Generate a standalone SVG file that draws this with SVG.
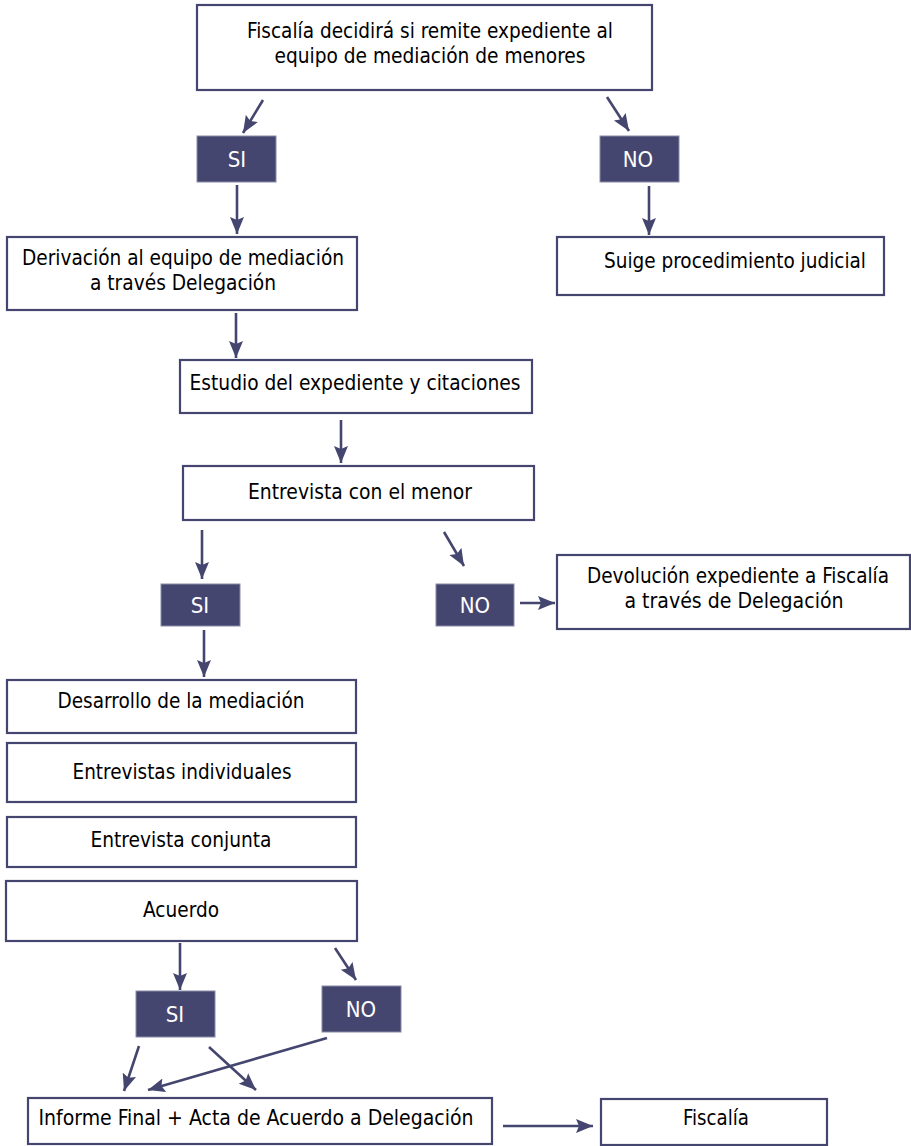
<svg xmlns="http://www.w3.org/2000/svg" width="911" height="1146" viewBox="0 0 911 1146">
<style>
.box{fill:#ffffff;stroke:#45466f;stroke-width:2.2}
.dark{fill:#45466f;stroke:#8a8ba8;stroke-width:1}
.t{font-family:"DejaVu Sans Condensed","DejaVu Sans",sans-serif;font-size:21px;fill:#000;text-anchor:middle}
.w{font-family:"DejaVu Sans Condensed","DejaVu Sans",sans-serif;font-size:22px;fill:#fff;text-anchor:middle}
.c{stroke:#45466f;stroke-width:2.6;fill:none;marker-end:url(#ah)}
</style>
<defs>
<marker id="ah" markerUnits="userSpaceOnUse" markerWidth="18" markerHeight="16" refX="17" refY="8" orient="auto">
<path d="M0,1 L17,8 L0,15 L3,8 Z" fill="#45466f"/>
</marker>
</defs>
<rect width="911" height="1146" fill="#fff"/>
<g id="connectors">
<line class="c" x1="263" y1="100" x2="243" y2="133"/>
<line class="c" x1="607" y1="97" x2="629" y2="131"/>
<line class="c" x1="237" y1="185" x2="237" y2="234"/>
<line class="c" x1="649" y1="186" x2="649" y2="235"/>
<line class="c" x1="236" y1="313" x2="236" y2="358"/>
<line class="c" x1="341" y1="420" x2="341" y2="463"/>
<line class="c" x1="202" y1="530" x2="202" y2="579"/>
<line class="c" x1="444" y1="532" x2="464" y2="566"/>
<line class="c" x1="520" y1="603" x2="555" y2="603"/>
<line class="c" x1="204" y1="630" x2="204" y2="677"/>
<line class="c" x1="180" y1="943" x2="180" y2="990"/>
<line class="c" x1="335" y1="948" x2="356" y2="980"/>
<line class="c" x1="139" y1="1046" x2="124" y2="1091"/>
<line class="c" x1="209" y1="1047" x2="256" y2="1090"/>
<line class="c" x1="327" y1="1038" x2="148" y2="1090"/>
<line class="c" x1="503" y1="1126" x2="593" y2="1126"/>
</g>
<g id="n1"><rect class="box" x="197" y="5" width="455" height="85"/>
<text class="t" x="430" y="38" textLength="366" lengthAdjust="spacingAndGlyphs">Fiscalía decidirá si remite expediente al</text>
<text class="t" x="430" y="63" textLength="311" lengthAdjust="spacingAndGlyphs">equipo de mediación de menores</text></g>
<g id="si1"><rect class="dark" x="197" y="136" width="79" height="46"/><text class="w" x="237" y="167">SI</text></g>
<g id="no1"><rect class="dark" x="600" y="136" width="79" height="46"/><text class="w" x="638" y="167">NO</text></g>
<g id="n2"><rect class="box" x="7" y="237" width="350" height="73"/>
<text class="t" x="183" y="265" textLength="322" lengthAdjust="spacingAndGlyphs">Derivación al equipo de mediación</text>
<text class="t" x="183" y="290" textLength="186" lengthAdjust="spacingAndGlyphs">a través Delegación</text></g>
<g id="n3"><rect class="box" x="557" y="237" width="327" height="58"/>
<text class="t" x="735" y="268" textLength="262" lengthAdjust="spacingAndGlyphs">Suige procedimiento judicial</text></g>
<g id="n4"><rect class="box" x="180" y="360" width="352" height="53"/>
<text class="t" x="355" y="390" textLength="331" lengthAdjust="spacingAndGlyphs">Estudio del expediente y citaciones</text></g>
<g id="n5"><rect class="box" x="183" y="466" width="351" height="54"/>
<text class="t" x="360" y="499" textLength="224" lengthAdjust="spacingAndGlyphs">Entrevista con el menor</text></g>
<g id="si2"><rect class="dark" x="161" y="584" width="79" height="42"/><text class="w" x="200" y="613">SI</text></g>
<g id="no2"><rect class="dark" x="436" y="584" width="78" height="42"/><text class="w" x="475" y="613">NO</text></g>
<g id="n6"><rect class="box" x="557" y="555" width="353" height="74"/>
<text class="t" x="738" y="583" textLength="302" lengthAdjust="spacingAndGlyphs">Devolución expediente a Fiscalía</text>
<text class="t" x="734" y="608" textLength="219" lengthAdjust="spacingAndGlyphs">a través de Delegación</text></g>
<g id="n7"><rect class="box" x="7" y="680" width="349" height="53"/>
<text class="t" x="181" y="708" textLength="247" lengthAdjust="spacingAndGlyphs">Desarrollo de la mediación</text></g>
<g id="n8"><rect class="box" x="7" y="743" width="349" height="59"/>
<text class="t" x="182" y="779" textLength="219" lengthAdjust="spacingAndGlyphs">Entrevistas individuales</text></g>
<g id="n9"><rect class="box" x="7" y="817" width="349" height="50"/>
<text class="t" x="181" y="847" textLength="181" lengthAdjust="spacingAndGlyphs">Entrevista conjunta</text></g>
<g id="n10"><rect class="box" x="6" y="881" width="351" height="60"/>
<text class="t" x="181" y="917" textLength="76" lengthAdjust="spacingAndGlyphs">Acuerdo</text></g>
<g id="si3"><rect class="dark" x="136" y="991" width="79" height="46"/><text class="w" x="175" y="1022">SI</text></g>
<g id="no3"><rect class="dark" x="322" y="986" width="79" height="46"/><text class="w" x="361" y="1017">NO</text></g>
<g id="n11"><rect class="box" x="28" y="1098" width="464" height="46"/>
<text class="t" x="256" y="1125" textLength="435" lengthAdjust="spacingAndGlyphs">Informe Final + Acta de Acuerdo a Delegación</text></g>
<g id="n12"><rect class="box" x="601" y="1099" width="226" height="46"/>
<text class="t" x="716" y="1125" textLength="66" lengthAdjust="spacingAndGlyphs">Fiscalía</text></g>
</svg>
